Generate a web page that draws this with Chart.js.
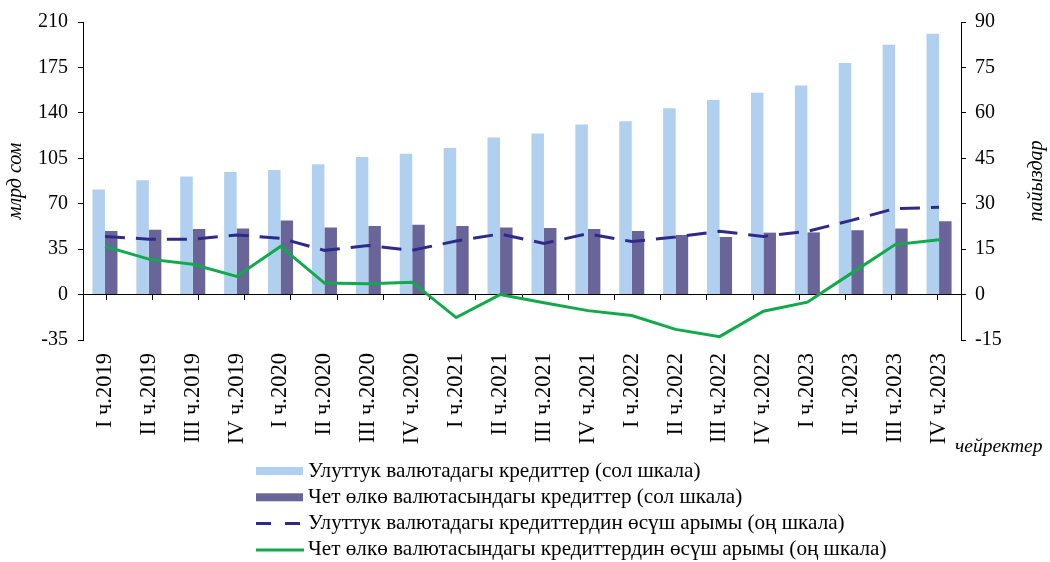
<!DOCTYPE html>
<html>
<head>
<meta charset="utf-8">
<script src="https://cdn.jsdelivr.net/npm/chart.js@4.4.1/dist/chart.umd.min.js"></script>
<style>
html,body{margin:0;padding:0;background:#fff;}
canvas{display:block;}
</style>
</head>
<body>
<canvas id="c" width="1050" height="562"></canvas>
<script>
const categories = ['I ч.2019','II ч.2019','III ч.2019','IV ч.2019',
  'I ч.2020','II ч.2020','III ч.2020','IV ч.2020',
  'I ч.2021','II ч.2021','III ч.2021','IV ч.2021',
  'I ч.2022','II ч.2022','III ч.2022','IV ч.2022',
  'I ч.2023','II ч.2023','III ч.2023','IV ч.2023'];
const nationalLoans = [81, 88, 91, 94.5, 96, 100.5, 106, 108.5, 113, 121, 124, 131, 133.5, 143.5, 150, 155.5, 161, 178.5, 192.5, 201];
const foreignLoans = [49, 50, 50.6, 51, 57, 51.6, 52.9, 53.7, 52.9, 51.6, 51.3, 50.5, 49, 45.9, 44.4, 47.7, 47.9, 49.5, 51, 56.4];
const nationalGrowth = [19.2, 18.3, 18.3, 19.7, 18.6, 14.6, 16.2, 14.6, 17.7, 20.0, 16.9, 20.1, 17.5, 19.0, 20.9, 19.2, 20.9, 24.5, 28.4, 28.8];
const foreignGrowth = [15.9, 11.7, 10.0, 6.0, 15.9, 3.8, 3.6, 4.1, -7.6, 0.0, -2.7, -5.3, -6.9, -11.5, -13.9, -5.5, -2.5, 7.0, 16.5, 18.1];
const leftTicks = [-35, 0, 35, 70, 105, 140, 175, 210];
const rightTicks = [-15, 0, 15, 30, 45, 60, 75, 90];
const seriesNames = ['Улуттук валютадагы кредиттер (сол шкала)',
  'Чет өлкө валютасындагы кредиттер (сол шкала)',
  'Улуттук валютадагы кредиттердин өсүш арымы (оң шкала)',
  'Чет өлкө валютасындагы кредиттердин өсүш арымы (оң шкала)'];
const leftTitle = 'млрд сом';
const rightTitle = 'пайыздар';
const xTitle = 'чейректер';

const FONT = "'Liberation Serif', 'Times New Roman', serif";
const COL_LIGHT = '#B1D0EF';
const COL_DARK = '#6A6599';
const COL_DASH = '#2E2A8A';
const COL_GREEN = '#10AA4A';

const extras = {
  id: 'extras',
  afterDraw(chart) {
    const ctx = chart.ctx;
    const area = chart.chartArea;
    ctx.save();
    ctx.fillStyle = '#000';
    // right axis title
    ctx.font = 'italic 20px ' + FONT;
    ctx.textAlign = 'center';
    ctx.textBaseline = 'middle';
    ctx.save();
    ctx.translate(1037, (area.top + area.bottom) / 2);
    ctx.rotate(-Math.PI / 2);
    ctx.fillText(rightTitle, 0, 0);
    ctx.restore();
    // x title
    ctx.textAlign = 'left';
    ctx.font = 'italic 19.5px ' + FONT;
    ctx.fillText(xTitle, 955, 447);
    // legend
    const ds = chart.data.datasets;
    ctx.font = '21.2px ' + FONT;
    for (let i = 0; i < ds.length; i++) {
      const y = 471 + i * 26.3;
      const d = ds[i];
      if (d.type === 'bar') {
        ctx.fillStyle = d.backgroundColor;
        ctx.fillRect(256, y - 4, 47, 8);
      } else {
        ctx.strokeStyle = d.borderColor;
        ctx.lineWidth = 3;
        ctx.setLineDash(d.borderDash ? [15, 14] : []);
        ctx.beginPath();
        ctx.moveTo(256, y);
        ctx.lineTo(304, y);
        ctx.stroke();
        ctx.setLineDash([]);
      }
      ctx.fillStyle = '#000';
      ctx.textBaseline = 'middle';
      ctx.fillText(d.label, 308, y);
    }
    ctx.restore();
  }
};

const yCommon = {
  grid: {display: true, drawOnChartArea: false, drawTicks: true, tickLength: 5, color: '#000'},
  border: {display: true, color: '#000', width: 1},
};

new Chart(document.getElementById('c'), {
  data: {
    labels: categories,
    datasets: [
      {type: 'bar', label: seriesNames[0], data: nationalLoans, backgroundColor: COL_LIGHT, yAxisID: 'y', xAxisID: 'x', order: 2, categoryPercentage: 0.57, barPercentage: 1.0},
      {type: 'bar', label: seriesNames[1], data: foreignLoans, backgroundColor: COL_DARK, yAxisID: 'y', xAxisID: 'x', order: 2, categoryPercentage: 0.57, barPercentage: 1.0},
      {type: 'line', label: seriesNames[2], data: nationalGrowth, borderColor: COL_DASH, borderWidth: 3, borderDash: [20, 11], pointRadius: 0, tension: 0, fill: false, yAxisID: 'y1', xAxisID: 'x', order: 0},
      {type: 'line', label: seriesNames[3], data: foreignGrowth, borderColor: COL_GREEN, borderWidth: 3, pointRadius: 0, tension: 0, fill: false, yAxisID: 'y1', xAxisID: 'x', order: 1}
    ]
  },
  options: {
    responsive: false,
    animation: false,
    devicePixelRatio: 1,
    layout: {padding: {top: 22, left: 0, right: 0, bottom: 0}},
    plugins: {legend: {display: false}, tooltip: {enabled: false}},
    scales: {
      x: {
        type: 'category',
        position: 'bottom',
        grid: {display: false, drawTicks: false},
        border: {display: false},
        ticks: {minRotation: 90, maxRotation: 90, autoSkip: false, padding: 13, color: '#000', font: {family: FONT, size: 22.5}},
        afterFit(s) { s.height = 222; }
      },
      x2: {
        type: 'category',
        labels: categories,
        position: {y: 0},
        grid: {display: true, drawOnChartArea: false, drawTicks: true, tickLength: 5, color: '#000', offset: true},
        border: {display: true, color: '#000', width: 1},
        ticks: {display: false}
      },
      y: {
        ...yCommon,
        position: 'left',
        min: -35, max: 210,
        afterBuildTicks(s) { s.ticks = leftTicks.map(v => ({value: v})); },
        ticks: {padding: 10, color: '#000', font: {family: FONT, size: 20}},
        title: {display: true, text: leftTitle, color: '#000', font: {family: FONT, size: 20, style: 'italic'}},
        afterFit(s) { s.width = 83; }
      },
      y1: {
        ...yCommon,
        position: 'right',
        min: -15, max: 90,
        afterBuildTicks(s) { s.ticks = rightTicks.map(v => ({value: v})); },
        ticks: {padding: 9, color: '#000', font: {family: FONT, size: 20}},
        afterFit(s) { s.width = 89; }
      }
    }
  },
  plugins: [extras]
});
</script>
</body>
</html>
